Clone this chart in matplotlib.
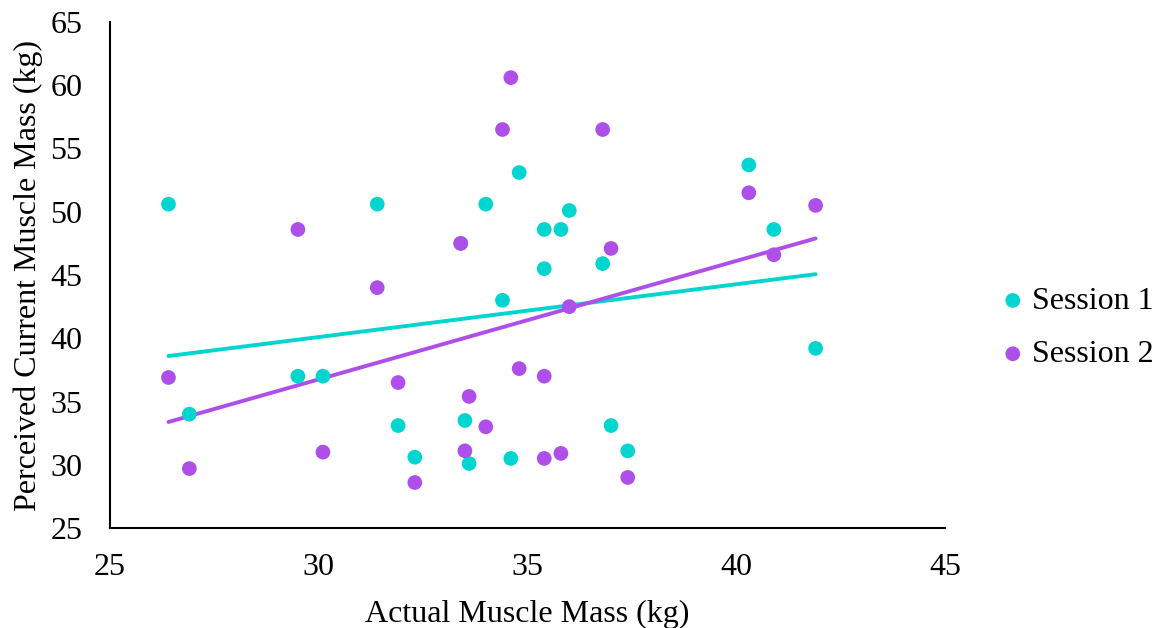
import numpy as np
import matplotlib
matplotlib.use("Agg")
import matplotlib.pyplot as plt

plt.rcParams["font.family"] = ["Liberation Serif", "DejaVu Serif"]

# Actual muscle mass (kg) per participant
actual_s1 = [26.4, 26.9, 29.5, 30.1, 31.4, 31.9, 32.3, 33.4, 33.5, 33.6, 34.0, 34.4,
             34.6, 34.8, 35.4, 35.4, 35.8, 36.0, 36.8, 37.0, 37.4, 40.3, 40.9, 41.9]
perceived_s1 = [50.6, 34.0, 37.0, 37.0, 50.6, 33.1, 30.6, 47.5, 33.5, 30.1, 50.6, 43.0,
                30.5, 53.1, 48.6, 45.5, 48.6, 50.1, 45.9, 33.1, 31.1, 53.7, 48.6, 39.2]

actual_s2 = [26.4, 26.9, 29.5, 30.1, 31.4, 31.9, 32.3, 33.4, 33.5, 33.6, 34.0, 34.4,
             34.6, 34.8, 35.4, 35.4, 35.8, 36.0, 36.8, 37.0, 37.4, 40.3, 40.9, 41.9]
perceived_s2 = [36.9, 29.7, 48.6, 31.0, 44.0, 36.5, 28.6, 47.5, 31.1, 35.4, 33.0, 56.5,
                60.6, 37.6, 37.0, 30.5, 30.9, 42.5, 56.5, 47.1, 29.0, 51.5, 46.6, 50.5]

series_names = ["Session 1", "Session 2"]
series_colors = ["#00D5D0", "#AF4FEA"]

x_ticks = [25, 30, 35, 40, 45]
y_ticks = [25, 30, 35, 40, 45, 50, 55, 60, 65]

FS = 23

fig = plt.figure(figsize=(11.57, 6.28), dpi=100)
ax = fig.add_axes([0.0951, 0.1592, 0.7217, 0.8058])

series = [(actual_s1, perceived_s1), (actual_s2, perceived_s2)]
for (xs, ys), name, col in zip(series, series_names, series_colors):
    ax.scatter(xs, ys, s=112, color=col, edgecolors="none", label=name, zorder=3)

# Linear trend lines over the observed range
for (xs, ys), col in zip(series, series_colors):
    xs = np.asarray(xs)
    ys = np.asarray(ys)
    m, b = np.polyfit(xs, ys, 1)
    xr = np.array([xs.min(), xs.max()])
    ax.plot(xr, m * xr + b, color=col, lw=2.8, solid_capstyle="round", zorder=2)

ax.set_xlim(25, 45)
ax.set_ylim(25, 65)
ax.set_xticks(x_ticks)
ax.set_yticks(y_ticks)
ax.tick_params(axis="x", length=0, labelsize=FS, pad=18)
ax.tick_params(axis="y", length=0, labelsize=FS, pad=20)
for side in ["top", "right"]:
    ax.spines[side].set_visible(False)
for side in ["left", "bottom"]:
    ax.spines[side].set_color("black")
    ax.spines[side].set_linewidth(1.5)

ax.set_xlabel("Actual Muscle Mass (kg)", fontsize=FS, labelpad=13)
ax.set_ylabel("Perceived Current Muscle Mass (kg)", fontsize=FS, labelpad=5)

fig.legend(loc="center left", bbox_to_anchor=(0.845, 0.478), frameon=False,
           fontsize=FS, handletextpad=0.0, handlelength=1.2, markerscale=1.0,
           labelspacing=0.75, borderpad=0.0)

fig.savefig("out.png", dpi=100)
